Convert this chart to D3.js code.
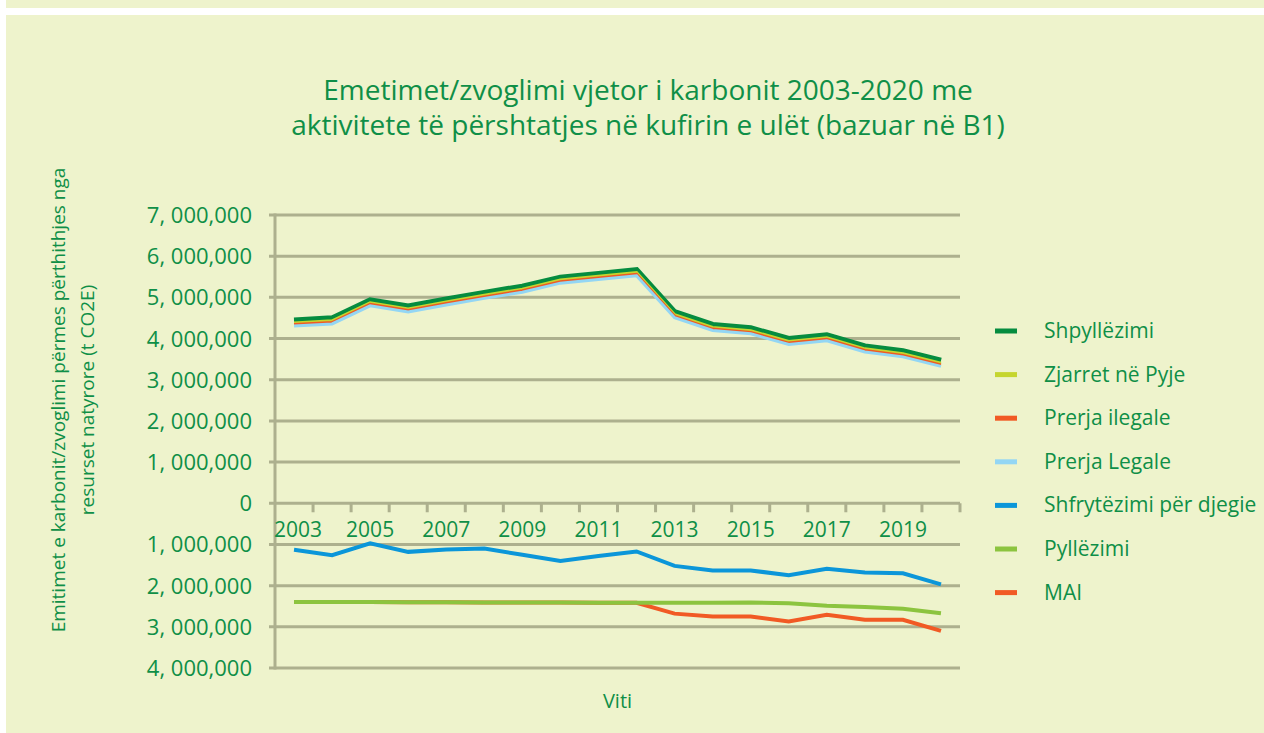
<!DOCTYPE html>
<html>
<head>
<meta charset="utf-8">
<script src="https://cdn.jsdelivr.net/npm/d3@7"></script>
<style>
  html, body { margin: 0; padding: 0; background: #ffffff; }
  #chart { width: 1264px; height: 733px; }
</style>
</head>
<body>
<div id="chart"></div>
<script>

////////////////////////////////////////////////////////
// Data ////////////////////////////////////////////////
////////////////////////////////////////////////////////

var years = ["2003", "2004", "2005", "2006", "2007", "2008", "2009", "2010", "2011",
             "2012", "2013", "2014", "2015", "2016", "2017", "2018", "2019", "2020"];

var yearLabels = ["2003", "2005", "2007", "2009", "2011", "2013", "2015", "2017", "2019"];

var yTicks = [-4000000, -3000000, -2000000, -1000000, 0, 1000000, 2000000,
              3000000, 4000000, 5000000, 6000000, 7000000];

var shpyllezimi = [4440000, 4490000, 4930000, 4780000, 4950000, 5110000, 5260000, 5480000, 5570000,
                   5660000, 4640000, 4330000, 4250000, 3990000, 4080000, 3810000, 3690000, 3460000];

var zjarret = [4380000, 4430000, 4870000, 4720000, 4890000, 5050000, 5200000, 5420000, 5510000,
               5600000, 4580000, 4270000, 4190000, 3930000, 4020000, 3750000, 3630000, 3400000];

var prerjaIlegale = [4340000, 4390000, 4830000, 4680000, 4850000, 5010000, 5160000, 5380000, 5470000,
                     5560000, 4540000, 4230000, 4150000, 3890000, 3980000, 3710000, 3590000, 3360000];

var prerjaLegale = [4305000, 4355000, 4795000, 4645000, 4815000, 4975000, 5125000, 5345000, 5435000,
                    5525000, 4505000, 4195000, 4115000, 3855000, 3945000, 3675000, 3555000, 3325000];

var djegie = [-1130000, -1260000, -970000, -1180000, -1120000, -1100000, -1250000, -1400000, -1280000,
              -1170000, -1520000, -1630000, -1630000, -1750000, -1590000, -1680000, -1700000, -1970000];

var pyllezimi = [-2400000, -2400000, -2400000, -2405000, -2405000, -2410000, -2410000, -2410000, -2415000,
                 -2415000, -2415000, -2415000, -2410000, -2430000, -2490000, -2520000, -2560000, -2670000];

var mai = [-2400000, -2400000, -2400000, -2405000, -2405000, -2410000, -2410000, -2410000, -2415000,
           -2415000, -2680000, -2750000, -2750000, -2870000, -2710000, -2830000, -2830000, -3100000];

var seriesNames = ["Shpyllëzimi", "Zjarret në Pyje", "Prerja ilegale", "Prerja Legale",
                   "Shfrytëzimi për djegie", "Pyllëzimi", "MAI"];

var seriesColors = ["#058c3f", "#c5d52f", "#f15a24", "#93d6f4", "#0b96d9", "#8cc43f", "#f15a24"];

var seriesValues = [shpyllezimi, zjarret, prerjaIlegale, prerjaLegale, djegie, pyllezimi, mai];

////////////////////////////////////////////////////////
// Options /////////////////////////////////////////////
////////////////////////////////////////////////////////

var cfg = {
  width: 1264,
  height: 733,
  plot: { left: 275, right: 960, top: 215, bottom: 668 },
  font: "'Open Sans', 'Noto Sans', sans-serif",
  text: "#0f8f47",
  bg: "#eef3cc",
  grid: "#adb08e",
  widths: [6, 3, 3, 3, 4, 4, 4],
  drawOrder: [0, 1, 2, 3, 4, 6, 5]   // MAI under Pyllëzimi, as in the original
};

var x = d3.scaleBand()
  .domain(years)
  .range([cfg.plot.left, cfg.plot.right]);

var y = d3.scaleLinear()
  .domain([-4000000, 7000000])
  .range([cfg.plot.bottom, cfg.plot.top]);

function fmt(v) {
  if (v === 0) return "0";
  return Math.abs(v / 1000000) + ", 000,000";
}

////////////////////////////////////////////////////////
// SVG /////////////////////////////////////////////////
////////////////////////////////////////////////////////

var svg = d3.select("#chart").append("svg")
  .attr("width", cfg.width)
  .attr("height", cfg.height)
  .style("font-family", cfg.font);

// panel background (white strips at the left and near the top)
svg.append("rect").attr("x", 6).attr("y", 0).attr("width", cfg.width - 6).attr("height", 8).attr("fill", cfg.bg);
svg.append("rect").attr("x", 6).attr("y", 15).attr("width", cfg.width - 6).attr("height", cfg.height - 15).attr("fill", cfg.bg);

////////////////////////////////////////////////////////
// Axes ////////////////////////////////////////////////
////////////////////////////////////////////////////////

// horizontal gridlines, with a small tick on the left
svg.append("g").selectAll("line")
  .data(yTicks)
  .enter().append("line")
    .attr("x1", cfg.plot.left - 6)
    .attr("x2", cfg.plot.right)
    .attr("y1", function(d) { return y(d); })
    .attr("y2", function(d) { return y(d); })
    .style("stroke", cfg.grid)
    .style("stroke-width", 3);

// vertical axis
svg.append("line")
  .attr("x1", cfg.plot.left).attr("x2", cfg.plot.left)
  .attr("y1", cfg.plot.top - 1.5).attr("y2", cfg.plot.bottom + 1.5)
  .style("stroke", cfg.grid)
  .style("stroke-width", 3);

// category ticks on the zero line
svg.append("g").selectAll("line")
  .data(years)
  .enter().append("line")
    .attr("x1", function(d) { return x(d) + x.bandwidth(); })
    .attr("x2", function(d) { return x(d) + x.bandwidth(); })
    .attr("y1", y(0))
    .attr("y2", y(0) + 9)
    .style("stroke", cfg.grid)
    .style("stroke-width", 3);

// y labels
svg.append("g").selectAll("text")
  .data(yTicks)
  .enter().append("text")
    .attr("x", 252)
    .attr("y", function(d) { return y(d) + 8; })
    .attr("text-anchor", "end")
    .style("font-size", "22px")
    .style("fill", cfg.text)
    .text(fmt);

// x labels
svg.append("g").selectAll("text")
  .data(yearLabels)
  .enter().append("text")
    .attr("x", function(d) { return x(d) + x.bandwidth() / 2 + (d === "2003" ? 4 : 0); })
    .attr("y", 537)
    .attr("text-anchor", "middle")
    .style("font-size", "21px")
    .style("fill", cfg.text)
    .text(function(d) { return d; });

////////////////////////////////////////////////////////
// Lines ///////////////////////////////////////////////
////////////////////////////////////////////////////////

var line = d3.line()
  .x(function(d, i) { return x(years[i]) + x.bandwidth() / 2; })
  .y(function(d) { return y(d); });

svg.append("g").selectAll("path")
  .data(cfg.drawOrder)
  .enter().append("path")
    .attr("d", function(k) { return line(seriesValues[k]); })
    .style("fill", "none")
    .style("stroke", function(k) { return seriesColors[k]; })
    .style("stroke-width", function(k) { return cfg.widths[k]; })
    .style("stroke-linejoin", "miter");

////////////////////////////////////////////////////////
// Titles //////////////////////////////////////////////
////////////////////////////////////////////////////////

var title = svg.append("text")
  .attr("text-anchor", "middle")
  .style("font-size", "28px")
  .style("fill", cfg.text);
title.append("tspan").attr("x", 648).attr("y", 100).text("Emetimet/zvoglimi vjetor i karbonit 2003-2020 me");
title.append("tspan").attr("x", 648).attr("y", 135).text("aktivitete të përshtatjes në kufirin e ulët (bazuar në B1)");

var yTitle = svg.append("text")
  .attr("transform", "translate(0,400) rotate(-90)")
  .attr("text-anchor", "middle")
  .style("font-size", "19px")
  .style("fill", cfg.text);
yTitle.append("tspan").attr("x", 0).attr("y", 65).text("Emitimet e karbonit/zvoglimi përmes përthithjes nga");
yTitle.append("tspan").attr("x", 0).attr("y", 94).text("resurset natyrore (t CO2E)");

svg.append("text")
  .attr("x", (cfg.plot.left + cfg.plot.right) / 2)
  .attr("y", 708)
  .attr("text-anchor", "middle")
  .style("font-size", "20px")
  .style("fill", cfg.text)
  .text("Viti");

////////////////////////////////////////////////////////
// Legend //////////////////////////////////////////////
////////////////////////////////////////////////////////

var legend = svg.append("g").selectAll("g")
  .data(seriesNames)
  .enter().append("g")
    .attr("transform", function(d, i) { return "translate(0," + (331 + i * 43.6) + ")"; });

legend.append("rect")
  .attr("x", 995)
  .attr("y", -2.5)
  .attr("width", 22)
  .attr("height", 5)
  .attr("fill", function(d, i) { return seriesColors[i]; });

legend.append("text")
  .attr("x", 1044)
  .attr("y", 7)
  .style("font-size", "21px")
  .style("fill", cfg.text)
  .text(function(d) { return d; });

</script>
</body>
</html>
